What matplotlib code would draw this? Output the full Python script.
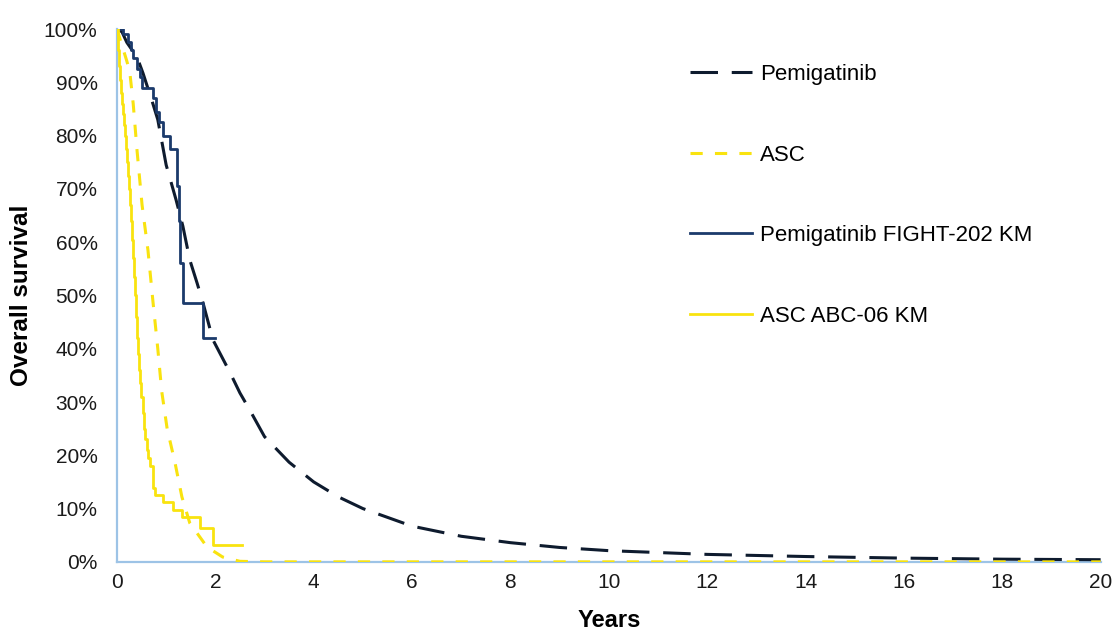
import numpy as np
import matplotlib
matplotlib.use('Agg')
import matplotlib.pyplot as plt
from matplotlib.ticker import PercentFormatter

plt.rcParams['font.family'] = ['Liberation Sans', 'DejaVu Sans']

# modelled overall survival curves (years, fraction alive)
pemi_t = [0, 0.1, 0.2, 0.41, 0.53, 0.73, 0.83, 1.0, 1.2, 1.34, 1.48, 1.63, 1.75, 1.95,
          2.3, 2.5, 2.7, 3.0, 3.5, 4, 4.5, 5, 6, 7, 8, 9, 10, 12, 14, 16, 18, 20]
pemi_s = [1.0, 0.995, 0.975, 0.947, 0.917, 0.86, 0.83, 0.745, 0.68, 0.63, 0.567, 0.523, 0.486, 0.417,
          0.355, 0.317, 0.285, 0.235, 0.187, 0.15, 0.122, 0.10, 0.067, 0.048, 0.036, 0.027, 0.021,
          0.014, 0.010, 0.007, 0.005, 0.004]

asc_t = [0, 0.1, 0.2, 0.26, 0.33, 0.41, 0.51, 0.63, 0.73, 0.83, 0.91, 1.02, 1.18, 1.32,
         1.48, 1.83, 2.15, 2.5, 3.0, 20]
asc_s = [1.0, 0.97, 0.94, 0.92, 0.86, 0.77, 0.67, 0.585, 0.49, 0.40, 0.32, 0.25, 0.186, 0.122,
         0.073, 0.028, 0.009, 0.001, 0.0, 0.0]

# Kaplan-Meier step data
km_pemi_t = [0, 0.12, 0.22, 0.28, 0.33, 0.41, 0.47, 0.51, 0.73, 0.79, 0.85, 0.93, 1.08,
             1.22, 1.26, 1.28, 1.34, 1.75, 1.99]
km_pemi_s = [1.0, 0.99, 0.975, 0.96, 0.945, 0.925, 0.91, 0.89, 0.87, 0.845, 0.825, 0.80, 0.775,
             0.705, 0.64, 0.56, 0.485, 0.42, 0.42]

km_asc_t = [0, 0.02, 0.04, 0.06, 0.08, 0.10, 0.12, 0.14, 0.16, 0.18, 0.20, 0.22, 0.24, 0.26,
            0.28, 0.30, 0.33, 0.35, 0.37, 0.39, 0.41, 0.43, 0.45, 0.47, 0.49, 0.52, 0.55,
            0.58, 0.61, 0.64, 0.67, 0.73, 0.77, 0.93, 1.14, 1.32, 1.69, 1.95, 2.54]
km_asc_s = [1.0, 0.96, 0.93, 0.905, 0.88, 0.86, 0.84, 0.82, 0.80, 0.775, 0.75, 0.725, 0.70, 0.67,
            0.64, 0.605, 0.57, 0.535, 0.50, 0.46, 0.42, 0.39, 0.36, 0.335, 0.31, 0.28, 0.25,
            0.23, 0.21, 0.195, 0.18, 0.139, 0.126, 0.113, 0.098, 0.084, 0.064, 0.032, 0.032]

navy_dark = '#0E1B2E'
navy = '#1B3A6B'
yellow = '#F9E30F'
axis_blue = '#9DC3E6'

fig = plt.figure(figsize=(11.14, 6.32), dpi=100)
ax = fig.add_axes([0.105, 0.111, 0.883, 0.843])

ax.plot(pemi_t, pemi_s, color=navy_dark, lw=2.2, dashes=(9, 4.5), label='Pemigatinib', zorder=3)
ax.plot(asc_t, asc_s, color=yellow, lw=2.2, dashes=(4, 4), label='ASC', zorder=4)
ax.plot(km_pemi_t, km_pemi_s, color=navy, lw=2.0, drawstyle='steps-post',
        label='Pemigatinib FIGHT-202 KM', zorder=5)
ax.plot(km_asc_t, km_asc_s, color=yellow, lw=2.0, drawstyle='steps-post',
        label='ASC ABC-06 KM', zorder=5)

ax.set_xlim(0, 20)
ax.set_ylim(0, 1)
ax.set_xticks(np.arange(0, 21, 2))
ax.set_yticks(np.arange(0, 1.01, 0.1))
ax.yaxis.set_major_formatter(PercentFormatter(1.0, decimals=0))
ax.tick_params(length=0, labelsize=15, colors='#1a1a1a')
ax.tick_params(axis='y', pad=14)
ax.tick_params(axis='x', pad=8)

for side in ['top', 'right']:
    ax.spines[side].set_visible(False)
for side in ['left', 'bottom']:
    ax.spines[side].set_color(axis_blue)
    ax.spines[side].set_linewidth(1.6)
    ax.spines[side].set_zorder(2)

ax.set_xlabel('Years', fontsize=17, fontweight='bold')
ax.xaxis.set_label_coords(0.5, -0.088)
ax.set_ylabel('Overall survival', fontsize=17.5, fontweight='bold')
ax.yaxis.set_label_coords(-0.085, 0.5)

ax.legend(loc='upper left', bbox_to_anchor=(0.562, 0.972), frameon=False, fontsize=16,
          handlelength=2.8, handletextpad=0.36, labelspacing=2.68)

fig.savefig('out.png', dpi=100)
